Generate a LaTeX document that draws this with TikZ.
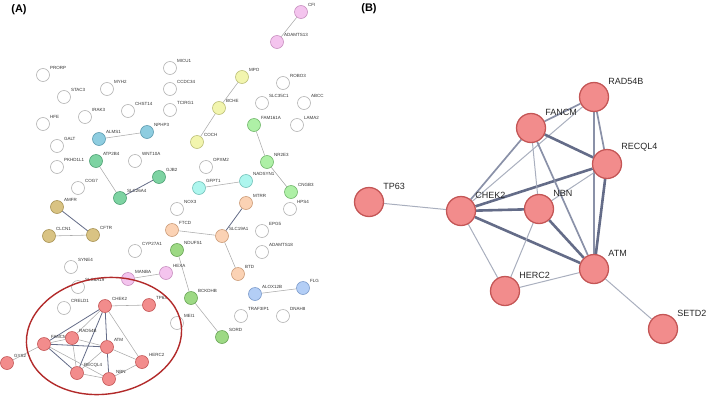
\documentclass[tikz,border=0pt]{standalone}
\usepackage{fontspec}
\setmainfont{Liberation Sans}
\usetikzlibrary{backgrounds}
\definecolor{whitefill}{HTML}{FFFFFF}\definecolor{whitedraw}{HTML}{B4B4B4}
\definecolor{pinkfill}{HTML}{F4C4EE}\definecolor{pinkdraw}{HTML}{C890C0}
\definecolor{yelfill}{HTML}{F2F5AE}\definecolor{yeldraw}{HTML}{BCC078}
\definecolor{bluefill}{HTML}{8ECDE0}\definecolor{bluedraw}{HTML}{5E9CB0}
\definecolor{grnfill}{HTML}{7DD3A2}\definecolor{grndraw}{HTML}{4FA275}
\definecolor{tanfill}{HTML}{D9C383}\definecolor{tandraw}{HTML}{A99455}
\definecolor{lgrnfill}{HTML}{AEF0A6}\definecolor{lgrndraw}{HTML}{72B86C}
\definecolor{cyanfill}{HTML}{AEF6EE}\definecolor{cyandraw}{HTML}{74C2BA}
\definecolor{orgfill}{HTML}{FBD2B4}\definecolor{orgdraw}{HTML}{CC9C78}
\definecolor{olvfill}{HTML}{9DD984}\definecolor{olvdraw}{HTML}{6AA556}
\definecolor{lbluefill}{HTML}{B3CEF6}\definecolor{lbluedraw}{HTML}{7D9CCB}
\definecolor{redfill}{HTML}{F28C8C}\definecolor{reddraw}{HTML}{C45656}
\definecolor{ringred}{HTML}{B22A2A}
\definecolor{edgelight}{HTML}{A9AFBE}
\definecolor{edgemid}{HTML}{8A91A8}
\definecolor{edgedark}{HTML}{646C88}
\begin{document}
\begin{tikzpicture}[x=1pt,y=-1pt,
    gA/.style={circle,minimum size=13pt,inner sep=0pt,line width=0.6pt,fill=#1fill,draw=#1draw},
    gB/.style={circle,minimum size=29pt,inner sep=0pt,line width=1.3pt,fill=redfill,draw=reddraw},
    lblA/.style={anchor=south west,inner sep=0.5pt,xshift=1.5pt,text=black!80,font=\fontsize{4.5}{5}\selectfont},
    lblB/.style={anchor=south west,inner sep=0pt,xshift=3.5pt,yshift=2pt,text=black!85,font=\fontsize{9}{10}\selectfont},
    eA/.style={line width=0.55pt,draw=black!33},
    eAd/.style={line width=0.8pt,draw=edgedark},
    eBthin/.style={line width=1pt,draw=edgelight},
    eBmid/.style={line width=1.7pt,draw=edgemid},
    eBthick/.style={line width=2.6pt,draw=edgedark}]
\useasboundingbox (0,0) rectangle (709,399);
\node[font=\bfseries\fontsize{11}{12}\selectfont] (panelA) at (19,10) {(A)};
\node[font=\bfseries\fontsize{11}{12}\selectfont] (panelB) at (369,9) {(B)};
% panel A: unconnected genes
\node[gA=white,label={[lblA]north east:PRORP}] (prorp) at (43,75) {};
\node[gA=white,label={[lblA]north east:STAC3}] (stac3) at (64,97) {};
\node[gA=white,label={[lblA]north east:MYH2}] (myh2) at (107,89) {};
\node[gA=white,label={[lblA]north east:IRAK3}] (irak3) at (85,117) {};
\node[gA=white,label={[lblA]north east:CHST14}] (chst14) at (128,111) {};
\node[gA=white,label={[lblA]north east:HFE}] (hfe) at (43,124) {};
\node[gA=white,label={[lblA]north east:MICU1}] (micu1) at (170,68) {};
\node[gA=white,label={[lblA]north east:CCDC34}] (ccdc34) at (170,89) {};
\node[gA=white,label={[lblA]north east:TCIRG1}] (tcirg1) at (170,110) {};
\node[gA=white,label={[lblA]north east:ROBO3}] (robo3) at (283,83) {};
\node[gA=white,label={[lblA]north east:SLC35C1}] (slc35c1) at (262,103) {};
\node[gA=white,label={[lblA]north east:ABCC}] (abcc) at (304,103) {};
\node[gA=white,label={[lblA]north east:LAMA2}] (lama2) at (297,125) {};
\node[gA=white,label={[lblA]north east:GALT}] (galt) at (57,146) {};
\node[gA=white,label={[lblA]north east:PKHD1L1}] (pkhd1l1) at (57,167) {};
\node[gA=white,label={[lblA]north east:WNT10A}] (wnt10a) at (135,161) {};
\node[gA=white,label={[lblA]north east:COG7}] (cog7) at (78,188) {};
\node[gA=white,label={[lblA]north east:OPXM2}] (opxm2) at (206,167) {};
\node[gA=white,label={[lblA]north east:NOX3}] (nox3) at (177,209) {};
\node[gA=white,label={[lblA]north east:HPS4}] (hps4) at (290,209) {};
\node[gA=white,label={[lblA]north east:EPG5}] (epg5) at (262,231) {};
\node[gA=white,label={[lblA]north east:ADAMTS18}] (adamts18) at (262,252) {};
\node[gA=white,label={[lblA]north east:CYP27A1}] (cyp27a1) at (135,251) {};
\node[gA=white,label={[lblA]north east:SYNE4}] (syne4) at (71,267) {};
\node[gA=white,label={[lblA]north east:SLC6A19}] (slc6a19) at (78,287) {};
\node[gA=white,label={[lblA]north east:CRELD1}] (creld1) at (64,308) {};
\node[gA=white,label={[lblA]north east:MEI1}] (mei1) at (177,323) {};
\node[gA=white,label={[lblA]north east:TRAF3IP1}] (traf3ip1) at (241,316) {};
\node[gA=white,label={[lblA]north east:DNAH8}] (dnah8) at (283,316) {};
% panel A: clusters
\node[gA=pink,label={[lblA]north east:CFI}] (cfi) at (301,12) {};
\node[gA=pink,label={[lblA]north east:ADAMTS13}] (adamts13) at (277,42) {};
\node[gA=pink,label={[lblA]north east:MANBA}] (manba) at (128,279) {};
\node[gA=pink,label={[lblA]north east:HEXA}] (hexa) at (166,273) {};
\node[gA=yel,label={[lblA]north east:MPO}] (mpo) at (242,77) {};
\node[gA=yel,label={[lblA]north east:BCHE}] (bche) at (219,108) {};
\node[gA=yel,label={[lblA]north east:COCH}] (coch) at (197,142) {};
\node[gA=blue,label={[lblA]north east:ALMS1}] (alms1) at (99,139) {};
\node[gA=blue,label={[lblA]north east:NPHP3}] (nphp3) at (147,132) {};
\node[gA=grn,label={[lblA]north east:ATP2B4}] (atp2b4) at (96,161) {};
\node[gA=grn,label={[lblA]north east:SLC26A4}] (slc26a4) at (120,198) {};
\node[gA=grn,label={[lblA]north east:GJB2}] (gjb2) at (159,177) {};
\node[gA=tan,label={[lblA]north east:AMFR}] (amfr) at (57,207) {};
\node[gA=tan,label={[lblA]north east:CLCN1}] (clcn1) at (49,236) {};
\node[gA=tan,label={[lblA]north east:CFTR}] (cftr) at (93,235) {};
\node[gA=lgrn,label={[lblA]north east:FAM161A}] (fam161a) at (254,125) {};
\node[gA=lgrn,label={[lblA]north east:NR2E3}] (nr2e3) at (267,162) {};
\node[gA=lgrn,label={[lblA]north east:CNGB3}] (cngb3) at (291,192) {};
\node[gA=cyan,label={[lblA]north east:GFPT1}] (gfpt1) at (199,188) {};
\node[gA=cyan,label={[lblA]north east:NADSYN1}] (nadsyn1) at (246,181) {};
\node[gA=org,label={[lblA]north east:MTRR}] (mtrr) at (246,203) {};
\node[gA=org,label={[lblA]north east:SLC19A1}] (slc19a1) at (222,236) {};
\node[gA=org,label={[lblA]north east:FTCD}] (ftcd) at (172,230) {};
\node[gA=org,label={[lblA]north east:BTD}] (btd) at (238,274) {};
\node[gA=olv,label={[lblA]north east:NDUFS1}] (ndufs1) at (177,250) {};
\node[gA=olv,label={[lblA]north east:BCKDHB}] (bckdhb) at (191,298) {};
\node[gA=olv,label={[lblA]north east:SORD}] (sord) at (222,337) {};
\node[gA=lblue,label={[lblA]north east:ALOX12B}] (alox12b) at (255,294) {};
\node[gA=lblue,label={[lblA]north east:FLG}] (flg) at (303,288) {};
% panel A: red cluster
\node[gA=red,label={[lblA]north east:CHEK2}] (chek2A) at (105,306) {};
\node[gA=red,label={[lblA]north east:TP63}] (tp63A) at (149,305) {};
\node[gA=red,label={[lblA]north east:FANCM}] (fancmA) at (44,344) {};
\node[gA=red,label={[lblA]north east:RAD54B}] (rad54bA) at (72,338) {};
\node[gA=red,label={[lblA]north east:ATM}] (atmA) at (107,347) {};
\node[gA=red,label={[lblA]north east:HERC2}] (herc2A) at (142,362) {};
\node[gA=red,label={[lblA]north east:RECQL4}] (recql4A) at (77,373) {};
\node[gA=red,label={[lblA]north east:NBN}] (nbnA) at (109,379) {};
\node[gA=red,label={[lblA]north east:GYS2}] (gys2A) at (7,363) {};
\begin{scope}[on background layer]
\draw[eA] (cfi) -- (adamts13);
\draw[eA] (mpo) -- (bche) -- (coch);
\draw[eA] (alms1) -- (nphp3);
\draw[eA] (atp2b4) -- (slc26a4);
\draw[eAd] (slc26a4) -- (gjb2);
\draw[eAd] (amfr) -- (cftr);
\draw[eA] (clcn1) -- (cftr);
\draw[eA] (fam161a) -- (nr2e3) -- (cngb3);
\draw[eA] (gfpt1) -- (nadsyn1);
\draw[eAd] (mtrr) -- (slc19a1);
\draw[eA] (ftcd) -- (slc19a1) -- (btd);
\draw[eA] (ndufs1) -- (bckdhb) -- (sord);
\draw[eA] (manba) -- (hexa);
\draw[eA] (alox12b) -- (flg);
\draw[eA] (chek2A) -- (tp63A);
\draw[eAd] (chek2A) -- (fancmA);
\draw[eA] (chek2A) -- (rad54bA);
\draw[eAd] (chek2A) -- (recql4A);
\draw[eAd] (chek2A) -- (atmA);
\draw[eA] (chek2A) -- (herc2A);
\draw[eA] (fancmA) -- (rad54bA);
\draw[eAd] (fancmA) -- (atmA);
\draw[eAd] (fancmA) -- (recql4A);
\draw[eA] (fancmA) -- (nbnA);
\draw[eA] (fancmA) -- (gys2A);
\draw[eA] (rad54bA) -- (recql4A);
\draw[eA] (rad54bA) -- (atmA);
\draw[eA] (atmA) -- (recql4A);
\draw[eA] (atmA) -- (herc2A);
\draw[eAd] (atmA) -- (nbnA);
\draw[eA] (nbnA) -- (herc2A);
\draw[eA] (nbnA) -- (recql4A);
\end{scope}
\draw[line width=1.4pt,ringred,rotate around={9:(104,336)}] (104,336) ellipse (78 and 58);
% panel B
\node[gB,label={[lblB]north east:TP63}] (tp63) at (369,202) {};
\node[gB,label={[lblB]north east:CHEK2}] (chek2) at (461,211) {};
\node[gB,label={[lblB]north east:NBN}] (nbn) at (539,209) {};
\node[gB,label={[lblB]north east:FANCM}] (fancm) at (531,128) {};
\node[gB,label={[lblB]north east:RAD54B}] (rad54b) at (594,97) {};
\node[gB,label={[lblB]north east:RECQL4}] (recql4) at (607,164) {};
\node[gB,label={[lblB]north east:ATM}] (atm) at (594,269) {};
\node[gB,label={[lblB]north east:HERC2}] (herc2) at (505,291) {};
\node[gB,label={[lblB]north east:SETD2}] (setd2) at (663,329) {};
\begin{scope}[on background layer]
\draw[eBthin] (tp63) -- (chek2);
\draw[eBmid] (chek2) -- (fancm);
\draw[eBthin] (chek2) -- (rad54b);
\draw[eBthick] (chek2) -- (recql4);
\draw[eBthick] (chek2) -- (nbn);
\draw[eBthick] (chek2) -- (atm);
\draw[eBthin] (chek2) -- (herc2);
\draw[eBmid] (fancm) -- (rad54b);
\draw[eBthick] (fancm) -- (recql4);
\draw[eBthin] (fancm) -- (nbn);
\draw[eBmid] (fancm) -- (atm);
\draw[eBmid] (rad54b) -- (recql4);
\draw[eBmid] (rad54b) -- (atm);
\draw[eBthick] (recql4) -- (atm);
\draw[eBthin] (recql4) -- (nbn);
\draw[eBthick] (nbn) -- (atm);
\draw[eBthin] (nbn) -- (herc2);
\draw[eBthin] (herc2) -- (atm);
\draw[eBthin] (atm) -- (setd2);
\end{scope}
\end{tikzpicture}
\end{document}
